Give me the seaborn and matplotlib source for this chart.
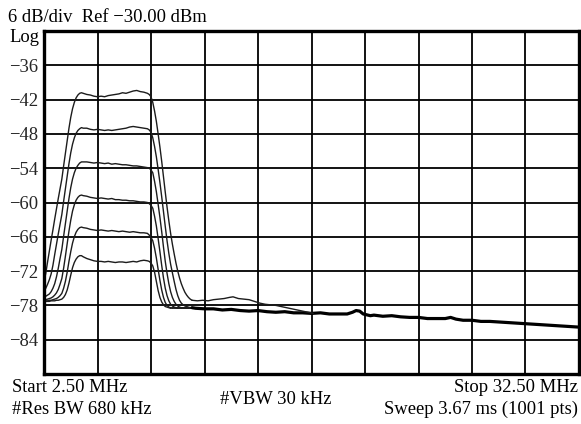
import matplotlib
matplotlib.use("Agg")
import matplotlib.pyplot as plt
import numpy as np
import pandas as pd
import seaborn as sns

# Frequency points (MHz) of the in-band part of every trace
band_mhz = [2.5, 2.6, 2.7, 2.8, 2.9, 3.0, 3.1, 3.2, 3.3, 3.4, 3.5, 3.6, 3.7, 3.8,
            3.9, 4.0, 4.1, 4.2, 4.3, 4.4, 4.5, 4.6, 4.7,
            4.9, 5.1, 5.3, 5.5, 5.7, 5.9, 6.1, 6.3, 6.5, 6.7, 6.9, 7.1, 7.3, 7.5,
            7.7, 7.9, 8.1,
            8.3, 8.4, 8.5, 8.6, 8.7, 8.8, 8.9, 9.0, 9.1, 9.2, 9.3, 9.4, 9.5, 9.6,
            9.7, 9.8, 9.9, 10.0, 10.1, 10.2, 10.3, 10.4, 10.5, 10.6, 10.7, 10.8]

# Measured levels (dBm) for the six output settings
trace_a = [-73.8, -72.4, -70.4, -68.5, -66.6, -64.8, -62.9, -61.1, -59.3, -57.6, -55.9, -53.6,
           -51.4, -49.2, -47.0, -45.1, -43.6, -42.5, -41.7, -41.2, -40.9, -40.8, -40.9,
           -41.1, -41.2, -41.4, -41.5, -41.4, -41.5, -41.3, -41.2, -41.1, -41.0, -40.8, -40.9,
           -40.7, -40.5, -40.4, -40.6, -40.7,
           -40.9, -41.1, -41.5, -42.5, -44.0, -45.8, -48.0, -50.3, -52.8, -55.5, -58.2, -60.8,
           -63.2, -65.4, -67.3, -69.0, -70.6, -72.0, -73.2, -74.2, -75.0, -75.7, -76.2, -76.6,
           -76.9, -77.1]
trace_b = [-75.5, -75.0, -74.3, -73.5, -72.5, -71.0, -69.1, -67.3, -65.5, -63.8, -62.1, -59.8,
           -57.6, -55.4, -53.2, -51.3, -49.8, -48.7, -47.9, -47.4, -47.1, -46.9, -47.0,
           -47.0, -47.2, -47.3, -47.2, -47.3, -47.4, -47.3, -47.4, -47.3, -47.2, -47.1, -47.0,
           -46.8, -46.7, -46.8, -46.9, -47.0,
           -47.1, -47.3, -47.7, -48.7, -50.2, -52.0, -54.2, -56.5, -59.0, -61.6, -64.2, -66.7,
           -68.9, -70.8, -72.3, -73.8, -75.2, -76.3, -77.1, -77.6, -77.9, -78.1, -78.2, -78.3,
           -78.4, -78.4]
trace_c = [-76.5, -76.4, -76.2, -76.0, -75.6, -75.0, -74.2, -73.0, -71.5, -69.8, -68.2, -65.9,
           -63.7, -61.5, -59.3, -57.4, -55.9, -54.8, -54.0, -53.5, -53.1, -52.9, -52.9,
           -52.9, -53.0, -53.1, -53.0, -53.1, -53.2, -53.1, -53.3, -53.2, -53.3, -53.4, -53.4,
           -53.5, -53.6, -53.6, -53.7, -53.8,
           -53.9, -54.0, -54.3, -54.8, -56.3, -58.1, -60.3, -62.6, -65.1, -67.8, -70.3, -72.4,
           -74.2, -75.6, -76.6, -77.3, -77.8, -78.1, -78.3, -78.4, -78.5, -78.4, -78.5, -78.4,
           -78.5, -78.4]
trace_d = [-77.0, -77.0, -76.9, -76.8, -76.7, -76.5, -76.2, -75.8, -75.2, -74.3, -73.3, -71.5,
           -69.4, -67.2, -65.0, -63.1, -61.5, -60.4, -59.6, -59.1, -58.8, -58.7, -58.8,
           -58.9, -59.1, -59.2, -59.3, -59.2, -59.3, -59.4, -59.3, -59.5, -59.5, -59.6, -59.6,
           -59.7, -59.7, -59.8, -59.9, -59.9,
           -60.0, -60.2, -60.5, -61.0, -62.4, -64.1, -66.3, -68.6, -71.0, -73.2, -75.0, -76.3,
           -77.2, -77.8, -78.1, -78.3, -78.4, -78.5, -78.4, -78.5, -78.4, -78.5, -78.4, -78.5,
           -78.4, -78.4]
trace_e = [-77.2, -77.2, -77.2, -77.1, -77.1, -77.0, -76.9, -76.8, -76.6, -76.3, -75.9, -75.0,
           -73.8, -72.2, -70.3, -68.6, -67.1, -66.0, -65.2, -64.7, -64.4, -64.3, -64.4,
           -64.5, -64.7, -64.8, -64.9, -64.8, -64.9, -65.0, -64.9, -65.0, -65.1, -65.0, -65.1,
           -65.2, -65.1, -65.2, -65.3, -65.3,
           -65.4, -65.7, -66.1, -66.7, -68.0, -69.7, -71.7, -73.6, -75.3, -76.6, -77.5, -78.0,
           -78.3, -78.4, -78.5, -78.4, -78.5, -78.4, -78.5, -78.4, -78.5, -78.4, -78.5, -78.4,
           -78.5, -78.4]
trace_f = [-77.3, -77.3, -77.3, -77.3, -77.2, -77.2, -77.2, -77.1, -77.1, -77.0, -76.9, -76.6,
           -76.1, -75.3, -74.1, -72.7, -71.4, -70.5, -69.9, -69.5, -69.3, -69.3, -69.5,
           -69.8, -70.0, -70.2, -70.3, -70.3, -70.4, -70.3, -70.4, -70.5, -70.4, -70.4, -70.5,
           -70.4, -70.3, -70.4, -70.2, -70.1,
           -70.2, -70.3, -70.6, -71.1, -72.2, -73.8, -75.4, -76.6, -77.4, -77.9, -78.2, -78.3,
           -78.4, -78.5, -78.4, -78.5, -78.4, -78.5, -78.4, -78.5, -78.4, -78.5, -78.4, -78.5,
           -78.4, -78.4]

# Out-of-band shoulder of the strongest trace
hump_mhz = [10.8, 11.1, 11.4, 11.7, 12.0, 12.3, 12.6, 12.9, 13.1, 13.4, 13.7, 14.0, 14.3,
            14.6, 14.9, 15.2, 15.5, 15.8, 16.1, 16.4, 16.7, 17.0, 17.3, 17.6]
hump_db = [-77.1, -77.2, -77.1, -77.2, -77.0, -76.9, -76.8, -76.6, -76.5, -76.8, -76.9, -77.0,
           -77.3, -77.6, -77.8, -77.9, -78.0, -78.2, -78.4, -78.6, -78.8, -79.0, -79.2, -79.4]

# Common noise floor shared by all traces above the band
floor_mhz = [10.8, 11.0, 11.5, 12.0, 12.5, 13.0, 13.5, 14.0, 14.5, 15.0, 15.5, 16.0, 16.5,
             17.0, 17.5, 18.0, 18.5, 19.0, 19.5, 19.8, 20.0, 20.2, 20.4, 20.8, 21.0, 21.5,
             22.0, 22.5, 23.0, 23.5, 24.0, 24.5, 25.0, 25.3, 25.6, 26.0, 26.5, 27.0, 27.5,
             28.0, 28.5, 29.0, 29.5, 30.0, 30.5, 31.0, 31.5, 32.0, 32.5]
floor_db = [-78.4, -78.5, -78.6, -78.6, -78.8, -78.7, -78.9, -79.0, -78.9, -79.1, -79.2, -79.1,
            -79.3, -79.3, -79.4, -79.3, -79.5, -79.5, -79.5, -79.2, -78.9, -79.0, -79.5, -79.8,
            -79.7, -79.9, -79.8, -80.0, -80.1, -80.1, -80.3, -80.3, -80.3, -80.1, -80.4, -80.6,
            -80.6, -80.8, -80.8, -80.9, -81.0, -81.1, -81.2, -81.3, -81.4, -81.5, -81.6, -81.7,
            -81.8]

level_ticks = [-84, -78, -72, -66, -60, -54, -48, -42, -36]
level_labels = ["\u221284", "\u221278", "\u221272", "\u221266", "\u221260",
                "\u221254", "\u221248", "\u221242", "\u221236"]

sns.set_style("white")
plt.rcParams["font.family"] = ["Liberation Serif", "DejaVu Serif"]

W, H = 581, 424
fig = plt.figure(figsize=(W / 100, H / 100), dpi=100)
ax = fig.add_axes([44 / W, 1 - 374 / H, (579 - 44) / W, (374 - 31) / H])

traces = {"a": trace_a, "b": trace_b, "c": trace_c,
          "d": trace_d, "e": trace_e, "f": trace_f}
df = pd.concat([pd.DataFrame({"freq": band_mhz, "level": v, "trace": k})
                for k, v in traces.items()], ignore_index=True)

ink = "#1c1c1c"
sns.lineplot(data=df, x="freq", y="level", units="trace", estimator=None,
             sort=False, color=ink, lw=1.0, ax=ax)
sns.lineplot(x=floor_mhz, y=floor_db, sort=False, color="black", lw=2.3, ax=ax)
sns.lineplot(x=hump_mhz, y=hump_db, sort=False, color=ink, lw=1.0, ax=ax)

ax.set_xlim(2.5, 32.5)
ax.set_ylim(-90, -30)
ax.set_xticks(np.arange(2.5, 32.6, 3.0))
ax.set_xticklabels([])
ax.set_yticks(level_ticks)
ax.set_yticklabels(level_labels)
ax.set_xlabel("")
ax.set_ylabel("")
ax.grid(True, color="black", lw=1.3)
ax.set_axisbelow(True)
ax.tick_params(axis="x", length=0, labelbottom=False)
ax.tick_params(axis="y", length=0, pad=4, labelsize=13.4)
for s in ax.spines.values():
    s.set_visible(True)
    s.set_linewidth(2.4)
    s.set_color("black")


def px_text(x, y, s, ha="left"):
    fig.text(x / W, 1 - y / H, s, ha=ha, va="center", fontsize=13.4, color="black")


px_text(8, 17, "6 dB/div  Ref \u221230.00 dBm")
px_text(9, 38, "Log")
px_text(12, 387, "Start 2.50 MHz")
px_text(12, 409, "#Res BW 680 kHz")
px_text(276, 400, "#VBW 30 kHz", ha="center")
px_text(578, 387, "Stop 32.50 MHz", ha="right")
px_text(578, 409, "Sweep 3.67 ms (1001 pts)", ha="right")

fig.savefig("out.png", dpi=100)
